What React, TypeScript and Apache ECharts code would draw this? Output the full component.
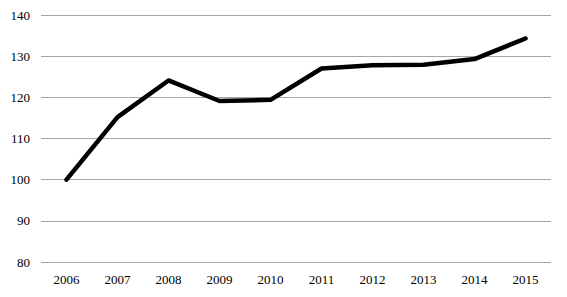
import React, { useEffect, useRef } from "react";
import * as echarts from "echarts";

const years = ["2006", "2007", "2008", "2009", "2010", "2011", "2012", "2013", "2014", "2015"];
const values = [100, 115.2, 124.1, 119.1, 119.4, 127.0, 127.8, 127.9, 129.3, 134.3];

export default function App() {
  const ref = useRef<HTMLDivElement>(null);
  useEffect(() => {
    document.body.style.margin = "0";
    const chart = echarts.init(ref.current!, null, { renderer: "svg" });
    chart.setOption({
      animation: false,
      backgroundColor: "#ffffff",
      grid: { left: 41, right: 16, top: 15, bottom: 35 },
      xAxis: {
        type: "category",
        data: years,
        boundaryGap: true,
        axisLine: { show: false },
        axisTick: { show: false },
        axisLabel: {
          color: "#000",
          fontFamily: "Liberation Serif",
          fontSize: 13,
          margin: 11,
        },
      },
      yAxis: {
        type: "value",
        min: 80,
        max: 140,
        interval: 10,
        axisLine: { show: false },
        axisTick: { show: false },
        axisLabel: {
          color: "#000",
          fontFamily: "Liberation Serif",
          fontSize: 13,
          margin: 11,
        },
        splitLine: { lineStyle: { color: "#a6a6a6", width: 1 } },
      },
      series: [
        {
          type: "line",
          data: values,
          showSymbol: false,
          symbol: "none",
          lineStyle: { color: "#000", width: 4.5, cap: "round", join: "round" },
        },
      ],
    });
    return () => chart.dispose();
  }, []);
  return <div ref={ref} style={{ width: 567, height: 297 }} />;
}
